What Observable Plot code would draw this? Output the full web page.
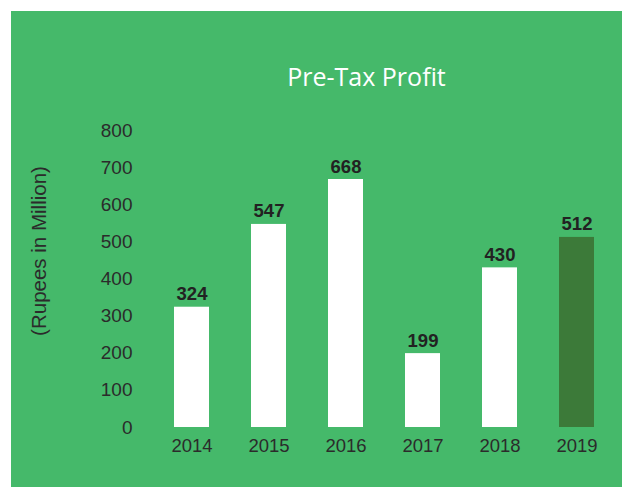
<!DOCTYPE html>
<html>
<head>
<meta charset="utf-8">
<script src="https://cdn.jsdelivr.net/npm/d3@7"></script>
<script src="https://cdn.jsdelivr.net/npm/@observablehq/plot@0.6"></script>
<style>
  html, body { margin: 0; padding: 0; background: #ffffff; }
  #panel { position: absolute; left: 11px; top: 11px; width: 611px; height: 476px; background: #45B96A; overflow: hidden; }
</style>
</head>
<body>
<div id="panel"></div>
<script>
const years = ["2014", "2015", "2016", "2017", "2018", "2019"];
const profit = [324, 547, 668, 199, 430, 512];
const yTicks = [0, 100, 200, 300, 400, 500, 600, 700, 800];
const titleText = "Pre-Tax Profit";
const yLabel = "(Rupees in Million)";
const highlightYear = "2019";

const data = years.map((y, i) => ({year: y, value: profit[i]}));
const green = "#45B96A";
const dark = "#3C7A39";
const ink = "#2b2b2b";

const chart = Plot.plot({
  width: 611,
  height: 476,
  marginLeft: 139,
  marginRight: 4,
  marginTop: 119,
  marginBottom: 60,
  style: {background: green, fontFamily: "'Liberation Sans', Arial, sans-serif", overflow: "visible"},
  x: {domain: years, paddingInner: 0.548, paddingOuter: 0.3, label: null},
  y: {domain: [0, 800], label: null},
  marks: [
    Plot.barY(data, {x: "year", y: "value", fill: d => d.year === highlightYear ? dark : "#ffffff"}),
    Plot.text(data, {x: "year", y: "value", text: d => String(d.value), dy: -7, lineAnchor: "bottom",
      fontSize: 18.5, fontWeight: "bold", fill: "#222222"}),
    Plot.axisY({ticks: yTicks, tickSize: 0, tickPadding: 18, fontSize: 19, fill: ink, label: null}),
    Plot.axisX({tickSize: 0, tickPadding: 11, fontSize: 18.5, fill: ink, label: null}),
    Plot.text([yLabel], {frameAnchor: "left", text: d => d, rotate: -90, dx: -111, dy: -28,
      textAnchor: "middle", fontSize: 20.5, fill: ink}),
    Plot.text([titleText], {frameAnchor: "top", text: d => d, dx: -18, dy: -53, lineAnchor: "middle",
      fontSize: 25, fill: "#ffffff", fontFamily: "'Open Sans', sans-serif"})
  ]
});
document.getElementById("panel").appendChild(chart);
</script>
</body>
</html>
